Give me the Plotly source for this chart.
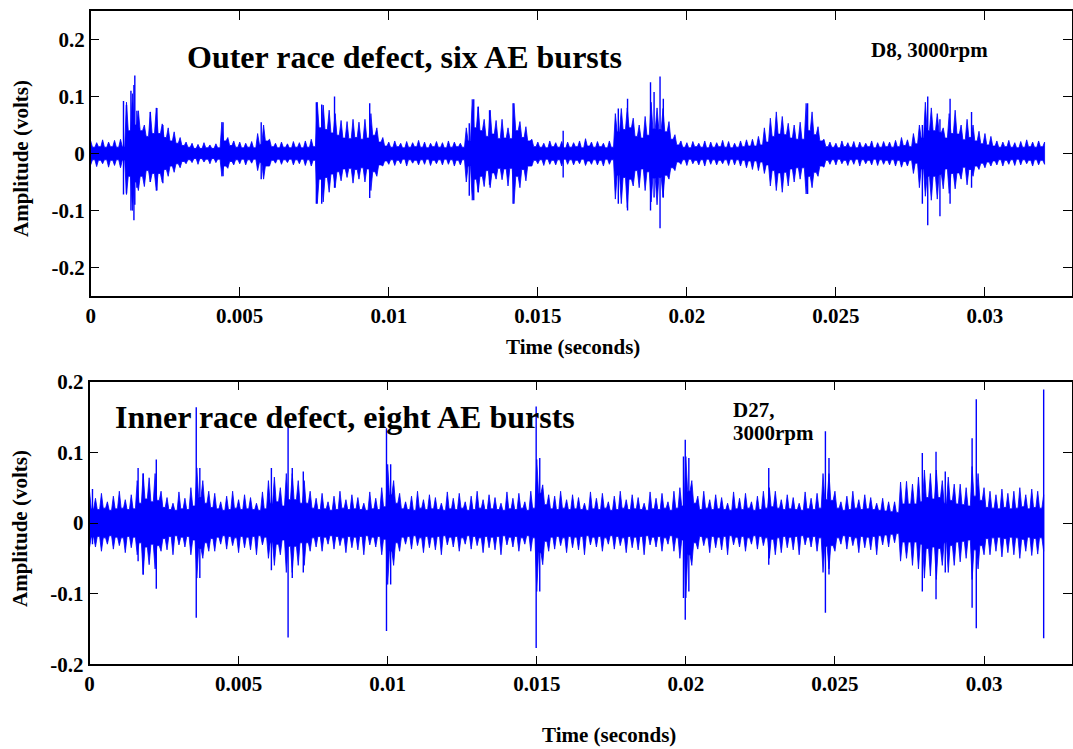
import numpy as np
import plotly.graph_objects as go

# Acoustic-emission records, 0 .. 0.032 s, summarised every SAMPLE_STEP seconds:
# the spike tops above / below zero, the half-width of the solid core of the
# trace between those spikes, and the isolated tall peaks.
SAMPLE_STEP = 0.0002

outer_upper = [
    0.022, 0.019, 0.024, 0.020, 0.023, 0.025, 0.090, 0.105, 0.075, 0.050,
    0.073, 0.080, 0.052, 0.045, 0.038, 0.028, 0.020, 0.018, 0.016, 0.019,
    0.015, 0.017, 0.055, 0.028, 0.022, 0.020, 0.018, 0.021, 0.035, 0.050,
    0.025, 0.018, 0.020, 0.017, 0.021, 0.019, 0.022, 0.025, 0.090, 0.085,
    0.076, 0.070, 0.058, 0.056, 0.060, 0.055, 0.060, 0.070, 0.045, 0.028,
    0.020, 0.022, 0.018, 0.021, 0.019, 0.023, 0.020, 0.018, 0.021, 0.019,
    0.022, 0.020, 0.018, 0.045, 0.095, 0.082, 0.060, 0.076, 0.058, 0.060,
    0.045, 0.088, 0.056, 0.047, 0.025, 0.020, 0.018, 0.022, 0.019, 0.021,
    0.020, 0.019, 0.022, 0.026, 0.020, 0.021, 0.018, 0.022, 0.070, 0.079,
    0.080, 0.062, 0.050, 0.065, 0.090, 0.080, 0.079, 0.056, 0.033, 0.022,
    0.019, 0.021, 0.018, 0.022, 0.020, 0.019, 0.023, 0.021, 0.018, 0.022,
    0.024, 0.025, 0.030, 0.045, 0.062, 0.073, 0.065, 0.053, 0.050, 0.055,
    0.088, 0.073, 0.047, 0.025, 0.020, 0.018, 0.022, 0.019, 0.021, 0.020,
    0.018, 0.022, 0.019, 0.021, 0.020, 0.023, 0.028, 0.024, 0.035, 0.050,
    0.090, 0.080, 0.070, 0.045, 0.070, 0.076, 0.050, 0.060, 0.050, 0.039,
    0.035, 0.030, 0.022, 0.020, 0.023, 0.019, 0.021, 0.024, 0.020, 0.022,
    0.020,
]
outer_lower = [
    -0.020, -0.023, -0.018, -0.024, -0.021, -0.025, -0.072, -0.100, -0.065, -0.058,
    -0.050, -0.065, -0.050, -0.040, -0.033, -0.025, -0.018, -0.016, -0.019, -0.015,
    -0.018, -0.016, -0.040, -0.026, -0.020, -0.018, -0.020, -0.017, -0.030, -0.045,
    -0.022, -0.017, -0.019, -0.016, -0.020, -0.018, -0.021, -0.022, -0.088, -0.085,
    -0.068, -0.060, -0.048, -0.042, -0.052, -0.045, -0.050, -0.065, -0.040, -0.022,
    -0.019, -0.021, -0.018, -0.022, -0.017, -0.020, -0.019, -0.021, -0.018, -0.020,
    -0.019, -0.022, -0.020, -0.050, -0.082, -0.068, -0.058, -0.060, -0.045, -0.046,
    -0.057, -0.088, -0.060, -0.048, -0.022, -0.018, -0.021, -0.019, -0.020, -0.022,
    -0.019, -0.020, -0.018, -0.021, -0.019, -0.020, -0.022, -0.019, -0.080, -0.088,
    -0.095, -0.057, -0.060, -0.065, -0.085, -0.090, -0.077, -0.045, -0.030, -0.019,
    -0.021, -0.018, -0.020, -0.022, -0.019, -0.020, -0.018, -0.021, -0.020, -0.022,
    -0.025, -0.028, -0.030, -0.035, -0.057, -0.065, -0.068, -0.057, -0.050, -0.045,
    -0.071, -0.060, -0.040, -0.024, -0.019, -0.020, -0.018, -0.021, -0.019, -0.022,
    -0.018, -0.020, -0.021, -0.019, -0.020, -0.022, -0.024, -0.022, -0.035, -0.060,
    -0.075, -0.082, -0.080, -0.062, -0.070, -0.062, -0.045, -0.055, -0.040, -0.028,
    -0.025, -0.022, -0.020, -0.022, -0.019, -0.021, -0.020, -0.018, -0.022, -0.020,
    -0.019,
]
outer_core = [
    0.011, 0.012, 0.011, 0.012, 0.011, 0.012, 0.040, 0.050, 0.040, 0.030,
    0.035, 0.035, 0.028, 0.022, 0.018, 0.014, 0.011, 0.009, 0.009, 0.010,
    0.009, 0.010, 0.022, 0.014, 0.011, 0.010, 0.011, 0.010, 0.016, 0.022,
    0.012, 0.010, 0.011, 0.010, 0.011, 0.010, 0.011, 0.012, 0.045, 0.042,
    0.036, 0.032, 0.027, 0.026, 0.028, 0.025, 0.027, 0.032, 0.020, 0.013,
    0.011, 0.012, 0.010, 0.011, 0.012, 0.011, 0.010, 0.012, 0.011, 0.010,
    0.011, 0.012, 0.011, 0.022, 0.045, 0.040, 0.030, 0.034, 0.026, 0.027,
    0.026, 0.040, 0.028, 0.022, 0.012, 0.011, 0.010, 0.012, 0.011, 0.010,
    0.011, 0.012, 0.010, 0.013, 0.011, 0.012, 0.010, 0.011, 0.038, 0.042,
    0.045, 0.030, 0.027, 0.032, 0.043, 0.042, 0.038, 0.025, 0.015, 0.011,
    0.010, 0.012, 0.011, 0.010, 0.011, 0.012, 0.011, 0.010, 0.011, 0.012,
    0.013, 0.013, 0.015, 0.020, 0.030, 0.034, 0.033, 0.027, 0.025, 0.025,
    0.040, 0.033, 0.022, 0.012, 0.011, 0.010, 0.012, 0.011, 0.010, 0.011,
    0.012, 0.010, 0.011, 0.012, 0.011, 0.012, 0.014, 0.012, 0.017, 0.027,
    0.040, 0.040, 0.037, 0.027, 0.035, 0.034, 0.024, 0.028, 0.022, 0.017,
    0.015, 0.013, 0.011, 0.012, 0.011, 0.010, 0.011, 0.012, 0.011, 0.012,
    0.011,
]
outer_peak_t = [0.00110, 0.00120, 0.00135, 0.00145, 0.00148, 0.00155, 0.00200,
                0.00222, 0.00242, 0.00444, 0.00572, 0.00757, 0.00775, 0.00818,
                0.00936, 0.01270, 0.01285, 0.01300, 0.01338, 0.01417, 0.01585,
                0.01770, 0.01801, 0.01878, 0.01890, 0.01910, 0.01921, 0.02405,
                0.02790, 0.02808, 0.02849, 0.02883, 0.02955]
outer_peak_hi = [0.092, 0.085, 0.110, 0.120, 0.137, 0.075, 0.073,
                 0.080, 0.050, 0.055, 0.055, 0.090, 0.086, 0.100,
                 0.088, 0.053, 0.095, 0.082, 0.076, 0.088, 0.040,
                 0.079, 0.096, 0.125, 0.108, 0.135, 0.096, 0.088,
                 0.050, 0.100, 0.060, 0.096, 0.073]
outer_peak_lo = [-0.072, -0.070, -0.100, -0.117, -0.090, -0.060, -0.050,
                 -0.065, -0.052, -0.040, -0.045, -0.088, -0.088, -0.060,
                 -0.078, -0.074, -0.082, -0.068, -0.055, -0.088, -0.042,
                 -0.088, -0.100, -0.100, -0.077, -0.131, -0.077, -0.071,
                 -0.088, -0.126, -0.110, -0.088, -0.060]

inner_upper = [
    0.045, 0.035, 0.042, 0.030, 0.038, 0.045, 0.033, 0.040, 0.060, 0.070,
    0.064, 0.070, 0.045, 0.036, 0.028, 0.044, 0.035, 0.050, 0.078, 0.060,
    0.045, 0.042, 0.030, 0.038, 0.045, 0.033, 0.040, 0.036, 0.028, 0.044,
    0.060, 0.065, 0.050, 0.070, 0.070, 0.060, 0.060, 0.045, 0.035, 0.042,
    0.030, 0.038, 0.045, 0.033, 0.040, 0.036, 0.028, 0.044, 0.035, 0.050,
    0.083, 0.060, 0.042, 0.030, 0.038, 0.045, 0.033, 0.040, 0.036, 0.028,
    0.044, 0.035, 0.042, 0.030, 0.038, 0.045, 0.033, 0.040, 0.036, 0.028,
    0.044, 0.035, 0.042, 0.030, 0.045, 0.090, 0.054, 0.040, 0.038, 0.045,
    0.033, 0.040, 0.036, 0.028, 0.044, 0.035, 0.042, 0.030, 0.038, 0.045,
    0.033, 0.040, 0.036, 0.028, 0.044, 0.035, 0.042, 0.030, 0.045, 0.050,
    0.094, 0.060, 0.038, 0.045, 0.033, 0.040, 0.036, 0.028, 0.044, 0.035,
    0.042, 0.030, 0.038, 0.045, 0.050, 0.045, 0.033, 0.040, 0.036, 0.028,
    0.044, 0.035, 0.042, 0.070, 0.070, 0.045, 0.030, 0.038, 0.045, 0.033,
    0.040, 0.036, 0.028, 0.035, 0.030, 0.030, 0.058, 0.059, 0.055, 0.065,
    0.075, 0.070, 0.075, 0.060, 0.065, 0.055, 0.055, 0.050, 0.080, 0.070,
    0.050, 0.045, 0.040, 0.048, 0.042, 0.045, 0.050, 0.040, 0.048, 0.045,
    0.040,
]
inner_lower = [
    -0.035, -0.034, -0.040, -0.030, -0.037, -0.032, -0.042, -0.035, -0.045, -0.073,
    -0.059, -0.065, -0.040, -0.038, -0.045, -0.031, -0.034, -0.045, -0.078, -0.050,
    -0.040, -0.040, -0.030, -0.037, -0.032, -0.042, -0.035, -0.038, -0.045, -0.031,
    -0.050, -0.060, -0.045, -0.070, -0.070, -0.060, -0.060, -0.040, -0.034, -0.040,
    -0.030, -0.037, -0.032, -0.042, -0.035, -0.038, -0.045, -0.031, -0.034, -0.045,
    -0.087, -0.060, -0.040, -0.030, -0.037, -0.032, -0.042, -0.035, -0.038, -0.045,
    -0.031, -0.034, -0.040, -0.030, -0.037, -0.032, -0.042, -0.035, -0.038, -0.045,
    -0.031, -0.034, -0.040, -0.030, -0.040, -0.097, -0.059, -0.040, -0.037, -0.032,
    -0.042, -0.035, -0.038, -0.045, -0.031, -0.034, -0.040, -0.030, -0.037, -0.032,
    -0.042, -0.035, -0.038, -0.045, -0.031, -0.034, -0.040, -0.030, -0.040, -0.050,
    -0.106, -0.060, -0.037, -0.032, -0.042, -0.035, -0.038, -0.045, -0.031, -0.034,
    -0.040, -0.030, -0.037, -0.032, -0.050, -0.045, -0.042, -0.035, -0.038, -0.045,
    -0.031, -0.034, -0.040, -0.070, -0.065, -0.040, -0.030, -0.037, -0.032, -0.042,
    -0.035, -0.038, -0.045, -0.031, -0.034, -0.028, -0.054, -0.050, -0.060, -0.065,
    -0.078, -0.075, -0.080, -0.060, -0.070, -0.060, -0.055, -0.050, -0.080, -0.065,
    -0.045, -0.045, -0.040, -0.048, -0.042, -0.045, -0.050, -0.040, -0.046, -0.044,
    -0.040,
]
inner_core = [
    0.020, 0.019, 0.021, 0.018, 0.020, 0.021, 0.019, 0.020, 0.028, 0.034,
    0.030, 0.032, 0.022, 0.019, 0.018, 0.020, 0.019, 0.024, 0.036, 0.028,
    0.022, 0.020, 0.018, 0.019, 0.021, 0.019, 0.020, 0.019, 0.018, 0.020,
    0.028, 0.030, 0.024, 0.033, 0.033, 0.028, 0.028, 0.021, 0.019, 0.020,
    0.018, 0.019, 0.021, 0.019, 0.020, 0.019, 0.018, 0.020, 0.019, 0.023,
    0.040, 0.028, 0.020, 0.019, 0.018, 0.021, 0.019, 0.020, 0.019, 0.018,
    0.020, 0.019, 0.021, 0.018, 0.019, 0.021, 0.019, 0.020, 0.019, 0.018,
    0.020, 0.019, 0.021, 0.018, 0.021, 0.042, 0.026, 0.020, 0.019, 0.021,
    0.019, 0.020, 0.019, 0.018, 0.020, 0.019, 0.021, 0.018, 0.019, 0.021,
    0.019, 0.020, 0.019, 0.018, 0.020, 0.019, 0.021, 0.018, 0.021, 0.024,
    0.045, 0.028, 0.019, 0.021, 0.019, 0.020, 0.019, 0.018, 0.020, 0.019,
    0.021, 0.018, 0.019, 0.021, 0.023, 0.021, 0.019, 0.020, 0.019, 0.018,
    0.020, 0.019, 0.021, 0.033, 0.032, 0.021, 0.018, 0.019, 0.021, 0.019,
    0.020, 0.019, 0.018, 0.017, 0.016, 0.015, 0.027, 0.027, 0.027, 0.030,
    0.036, 0.034, 0.036, 0.028, 0.032, 0.027, 0.026, 0.024, 0.038, 0.032,
    0.022, 0.021, 0.020, 0.022, 0.020, 0.021, 0.023, 0.020, 0.022, 0.021,
    0.020,
]
inner_peak_t = [0.00010, 0.00163, 0.00180, 0.00224, 0.00358, 0.00370, 0.00610,
                0.00666, 0.00680, 0.00717, 0.00996, 0.01010, 0.01498, 0.01510,
                0.01992, 0.01998, 0.02010, 0.02278, 0.02468, 0.02480, 0.02793,
                0.02839, 0.02870, 0.02960, 0.02974, 0.03200]
inner_peak_hi = [0.048, 0.078, 0.070, 0.090, 0.164, 0.078, 0.078,
                 0.153, 0.078, 0.073, 0.134, 0.083, 0.165, 0.092,
                 0.094, 0.118, 0.092, 0.078, 0.130, 0.092, 0.099,
                 0.101, 0.073, 0.120, 0.175, 0.189]
inner_peak_lo = [-0.030, -0.054, -0.073, -0.093, -0.134, -0.078, -0.067,
                 -0.162, -0.078, -0.070, -0.153, -0.087, -0.177, -0.097,
                 -0.106, -0.137, -0.097, -0.059, -0.127, -0.073, -0.097,
                 -0.108, -0.070, -0.120, -0.149, -0.163]

x_tick_vals = [0, 0.005, 0.01, 0.015, 0.02, 0.025, 0.03]
x_tick_text = ["0", "0.005", "0.01", "0.015", "0.02", "0.025", "0.03"]
y_tick_vals = [-0.2, -0.1, 0, 0.1, 0.2]
y_tick_text = ["-0.2", "-0.1", "0", "0.1", "0.2"]

BLUE = "#0000ff"
FONT = "Liberation Serif"
W, H = 1073, 749
SPIKE_HALF_BASE = 0.3   # half-width of a spike's base, in units of SAMPLE_STEP


def px_x(p):
    return p / W


def px_y(p):
    return 1 - p / H


def signal_traces(upper, lower, core, pk_t, pk_hi, pk_lo, xa, ya):
    """Trace outline: a narrow spike at every sample, the solid core between."""
    n = len(upper)
    t = np.arange(n) * SAMPLE_STEP
    q = SAMPLE_STEP * SPIKE_HALF_BASE
    top_x, top_y, bot_x, bot_y = [], [], [], []
    for i in range(n):
        top_x.append(t[i]); top_y.append(upper[i])
        bot_x.append(t[i]); bot_y.append(lower[i])
        if i < n - 1:
            top_x += [t[i] + q, t[i + 1] - q]; top_y += [core[i], core[i]]
            bot_x += [t[i] + q, t[i + 1] - q]; bot_y += [-core[i], -core[i]]
    band = go.Scatter(x=top_x + bot_x[::-1], y=top_y + bot_y[::-1], mode="lines",
                      fill="toself", fillcolor=BLUE,
                      line=dict(color=BLUE, width=0.8),
                      xaxis=xa, yaxis=ya, hoverinfo="skip", showlegend=False)
    sx, sy = [], []
    for tt, hi, lo in zip(pk_t, pk_hi, pk_lo):
        sx += [tt, tt, None]
        sy += [hi, lo, None]
    peaks = go.Scatter(x=sx, y=sy, mode="lines", line=dict(color=BLUE, width=1.4),
                       xaxis=xa, yaxis=ya, hoverinfo="skip", showlegend=False)
    return [band, peaks]


fig = go.Figure()
for tr in signal_traces(outer_upper, outer_lower, outer_core, outer_peak_t,
                        outer_peak_hi, outer_peak_lo, "x", "y"):
    fig.add_trace(tr)
for tr in signal_traces(inner_upper, inner_lower, inner_core, inner_peak_t,
                        inner_peak_hi, inner_peak_lo, "x2", "y2"):
    fig.add_trace(tr)

tick_font = dict(family=FONT, size=21, color="black", weight="bold")
axis_common = dict(showline=True, linecolor="black", linewidth=1.5, mirror="ticks",
                   ticks="inside", ticklen=9, tickwidth=1.2, tickcolor="black",
                   showgrid=False, zeroline=False, automargin=False,
                   tickfont=tick_font)

fig.update_layout(
    width=W, height=H,
    margin=dict(l=0, r=0, t=0, b=0, autoexpand=False),
    paper_bgcolor="white", plot_bgcolor="white",
    xaxis=dict(domain=[px_x(90.7), px_x(1072)], range=[0, 0.03292], anchor="y",
               tickvals=x_tick_vals, ticktext=x_tick_text, **axis_common),
    yaxis=dict(domain=[px_y(296), px_y(11)], range=[-0.25, 0.25], anchor="x",
               tickvals=y_tick_vals, ticktext=y_tick_text, **axis_common),
    xaxis2=dict(domain=[px_x(89.5), px_x(1072)], range=[0, 0.03295], anchor="y2",
                tickvals=x_tick_vals, ticktext=x_tick_text, **axis_common),
    yaxis2=dict(domain=[px_y(664.3), px_y(381.7)], range=[-0.2, 0.2], anchor="x2",
                tickvals=y_tick_vals, ticktext=y_tick_text, **axis_common),
)


def label(text, x, y, size, xanchor="left", angle=0):
    fig.add_annotation(text=text, x=px_x(x), y=px_y(y), xref="paper", yref="paper",
                       xanchor=xanchor, yanchor="middle", showarrow=False,
                       textangle=angle,
                       font=dict(family=FONT, size=size, color="black", weight="bold"))


label("Outer race defect, six AE bursts", 185, 57, 32)
label("D8, 3000rpm", 869, 50, 21)
label("Inner race defect, eight AE bursts", 113, 417, 32)
label("D27,", 731, 410, 21)
label("3000rpm", 731, 433.5, 21)
label("Time (seconds)", 573, 347, 21, xanchor="center")
label("Time (seconds)", 609, 735, 21, xanchor="center")
label("Amplitude (volts)", 21, 159, 21, xanchor="center", angle=-90)
label("Amplitude (volts)", 20, 529, 21, xanchor="center", angle=-90)

fig.write_html("out.html")
